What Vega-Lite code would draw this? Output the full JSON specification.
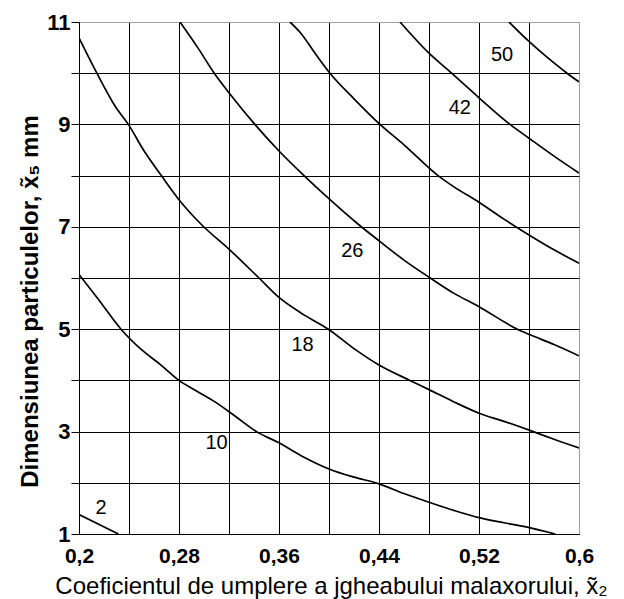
{
  "$schema": "https://vega.github.io/schema/vega-lite/v6.json",
  "autosize": "none",
  "width": 500,
  "height": 512,
  "padding": {"left": 79, "top": 22, "right": 45, "bottom": 65},
  "background": "white",
  "config": {
    "view": {"stroke": "#a0a0a0", "strokeWidth": 1},
    "font": "Liberation Sans"
  },
  "datasets": {
    "curves": [
      {"v": 2, "x": 0.2, "y": 1.38}, {"v": 2, "x": 0.2315, "y": 1.0},
      {"v": 10, "x": 0.2, "y": 6.07}, {"v": 10, "x": 0.215, "y": 5.6}, {"v": 10, "x": 0.2336, "y": 5.0}, {"v": 10, "x": 0.25, "y": 4.6}, {"v": 10, "x": 0.2656, "y": 4.3}, {"v": 10, "x": 0.28, "y": 4.0}, {"v": 10, "x": 0.295, "y": 3.78}, {"v": 10, "x": 0.3088, "y": 3.58}, {"v": 10, "x": 0.325, "y": 3.3}, {"v": 10, "x": 0.342, "y": 3.0}, {"v": 10, "x": 0.36, "y": 2.78}, {"v": 10, "x": 0.38, "y": 2.5}, {"v": 10, "x": 0.401, "y": 2.26}, {"v": 10, "x": 0.42, "y": 2.11}, {"v": 10, "x": 0.44, "y": 1.98}, {"v": 10, "x": 0.46, "y": 1.79}, {"v": 10, "x": 0.48, "y": 1.62}, {"v": 10, "x": 0.5, "y": 1.46}, {"v": 10, "x": 0.52, "y": 1.32}, {"v": 10, "x": 0.54, "y": 1.22}, {"v": 10, "x": 0.561, "y": 1.12}, {"v": 10, "x": 0.581, "y": 1.0},
      {"v": 18, "x": 0.2, "y": 10.69}, {"v": 18, "x": 0.2143, "y": 10.0}, {"v": 18, "x": 0.2293, "y": 9.34}, {"v": 18, "x": 0.2395, "y": 9.0}, {"v": 18, "x": 0.2516, "y": 8.5}, {"v": 18, "x": 0.2659, "y": 8.0}, {"v": 18, "x": 0.28, "y": 7.53}, {"v": 18, "x": 0.2977, "y": 7.05}, {"v": 18, "x": 0.3206, "y": 6.55}, {"v": 18, "x": 0.344, "y": 6.0}, {"v": 18, "x": 0.36, "y": 5.62}, {"v": 18, "x": 0.38, "y": 5.28}, {"v": 18, "x": 0.3995, "y": 5.0}, {"v": 18, "x": 0.42, "y": 4.62}, {"v": 18, "x": 0.44, "y": 4.3}, {"v": 18, "x": 0.4647, "y": 4.0}, {"v": 18, "x": 0.48, "y": 3.82}, {"v": 18, "x": 0.5, "y": 3.58}, {"v": 18, "x": 0.52, "y": 3.36}, {"v": 18, "x": 0.54, "y": 3.2}, {"v": 18, "x": 0.5634, "y": 3.0}, {"v": 18, "x": 0.58, "y": 2.85}, {"v": 18, "x": 0.6, "y": 2.68},
      {"v": 26, "x": 0.2808, "y": 11.0}, {"v": 26, "x": 0.295, "y": 10.5}, {"v": 26, "x": 0.3082, "y": 10.0}, {"v": 26, "x": 0.3206, "y": 9.6}, {"v": 26, "x": 0.3407, "y": 9.0}, {"v": 26, "x": 0.36, "y": 8.48}, {"v": 26, "x": 0.38, "y": 8.0}, {"v": 26, "x": 0.4008, "y": 7.53}, {"v": 26, "x": 0.4234, "y": 7.05}, {"v": 26, "x": 0.4409, "y": 6.71}, {"v": 26, "x": 0.46, "y": 6.35}, {"v": 26, "x": 0.481, "y": 6.0}, {"v": 26, "x": 0.5, "y": 5.7}, {"v": 26, "x": 0.52, "y": 5.44}, {"v": 26, "x": 0.5507, "y": 5.0}, {"v": 26, "x": 0.561, "y": 4.89}, {"v": 26, "x": 0.58, "y": 4.7}, {"v": 26, "x": 0.6, "y": 4.48},
      {"v": 34, "x": 0.3688, "y": 11.0}, {"v": 34, "x": 0.3768, "y": 10.8}, {"v": 34, "x": 0.39, "y": 10.35}, {"v": 34, "x": 0.4008, "y": 10.0}, {"v": 34, "x": 0.42, "y": 9.5}, {"v": 34, "x": 0.4408, "y": 9.0}, {"v": 34, "x": 0.46, "y": 8.6}, {"v": 34, "x": 0.4872, "y": 8.0}, {"v": 34, "x": 0.5, "y": 7.78}, {"v": 34, "x": 0.52, "y": 7.48}, {"v": 34, "x": 0.54, "y": 7.15}, {"v": 34, "x": 0.56, "y": 6.84}, {"v": 34, "x": 0.58, "y": 6.55}, {"v": 34, "x": 0.6, "y": 6.29},
      {"v": 42, "x": 0.4568, "y": 11.0}, {"v": 42, "x": 0.48, "y": 10.39}, {"v": 42, "x": 0.4981, "y": 10.0}, {"v": 42, "x": 0.52, "y": 9.52}, {"v": 42, "x": 0.5448, "y": 9.0}, {"v": 42, "x": 0.56, "y": 8.73}, {"v": 42, "x": 0.58, "y": 8.38}, {"v": 42, "x": 0.6, "y": 8.05},
      {"v": 50, "x": 0.544, "y": 11.0}, {"v": 50, "x": 0.56, "y": 10.62}, {"v": 50, "x": 0.58, "y": 10.2}, {"v": 50, "x": 0.5904, "y": 10.0}, {"v": 50, "x": 0.6, "y": 9.83}
    ],
    "labels": [
      {"label": "2", "x": 0.2176, "y": 1.51},
      {"label": "10", "x": 0.31, "y": 2.78},
      {"label": "18", "x": 0.3788, "y": 4.69},
      {"label": "26", "x": 0.4186, "y": 6.52},
      {"label": "42", "x": 0.5046, "y": 9.32},
      {"label": "50", "x": 0.5385, "y": 10.36}
    ]
  },
  "layer": [
    {
      "data": {"name": "curves"},
      "mark": {"type": "line", "color": "black", "strokeWidth": 1.7, "interpolate": "monotone", "clip": true},
      "encoding": {
        "x": {
          "field": "x", "type": "quantitative",
          "scale": {"domain": [0.2, 0.6], "nice": false, "zero": false},
          "axis": {
            "values": [0.2, 0.24, 0.28, 0.32, 0.36, 0.4, 0.44, 0.48, 0.52, 0.56, 0.6],
            "labelExpr": "round((datum.value - 0.2) / 0.04) % 2 == 0 ? replace(format(datum.value, '.2~f'), '.', ',') : ''",
            "labelFont": "Liberation Sans", "labelFontSize": 21, "labelFontWeight": "bold", "labelColor": "black",
            "labelPadding": 11, "labelBaseline": "top", "labelFlush": false, "labelOverlap": false,
            "ticks": false, "domainColor": "black", "domainWidth": 1,
            "grid": true, "gridOpacity": 1, "gridWidth": 1,
            "gridColor": {"condition": {"test": "datum.value > 0.599", "value": "#a0a0a0"}, "value": "black"},
            "title": "Coeficientul de umplere a jgheabului malaxorului, x̃₂",
            "titleFont": "Liberation Sans", "titleFontSize": 24, "titleFontWeight": "normal", "titleColor": "black",
            "titleX": 252, "titleY": 59, "titleBaseline": "alphabetic", "titleAlign": "center"
          }
        },
        "y": {
          "field": "y", "type": "quantitative",
          "scale": {"domain": [1, 11], "nice": false, "zero": false},
          "axis": {
            "values": [1, 2, 3, 4, 5, 6, 7, 8, 9, 10, 11],
            "labelExpr": "datum.value % 2 == 1 ? datum.label : ''",
            "labelFont": "Liberation Sans", "labelFontSize": 22, "labelFontWeight": "bold", "labelColor": "black",
            "labelPadding": 1, "labelOverlap": false, "labelFlush": false,
            "ticks": true, "tickSize": 8, "tickColor": "black", "domainColor": "black", "domainWidth": 1,
            "grid": true, "gridOpacity": 1, "gridWidth": 1,
            "gridColor": {"condition": {"test": "datum.value > 10.99", "value": "#a0a0a0"}, "value": "black"},
            "title": "Dimensiunea particulelor, x̃₅ mm",
            "titleFont": "Liberation Sans", "titleFontSize": 24, "titleFontWeight": "bold", "titleColor": "black",
            "titleX": -42, "titleY": 279, "titleBaseline": "alphabetic", "titleAlign": "center", "titleAngle": -90
          }
        },
        "detail": {"field": "v", "type": "nominal"}
      }
    },
    {
      "data": {"name": "labels"},
      "mark": {"type": "text", "font": "Liberation Sans", "fontSize": 20, "color": "black", "align": "center", "baseline": "middle"},
      "encoding": {
        "x": {"field": "x", "type": "quantitative"},
        "y": {"field": "y", "type": "quantitative"},
        "text": {"field": "label", "type": "nominal"}
      }
    }
  ]
}
